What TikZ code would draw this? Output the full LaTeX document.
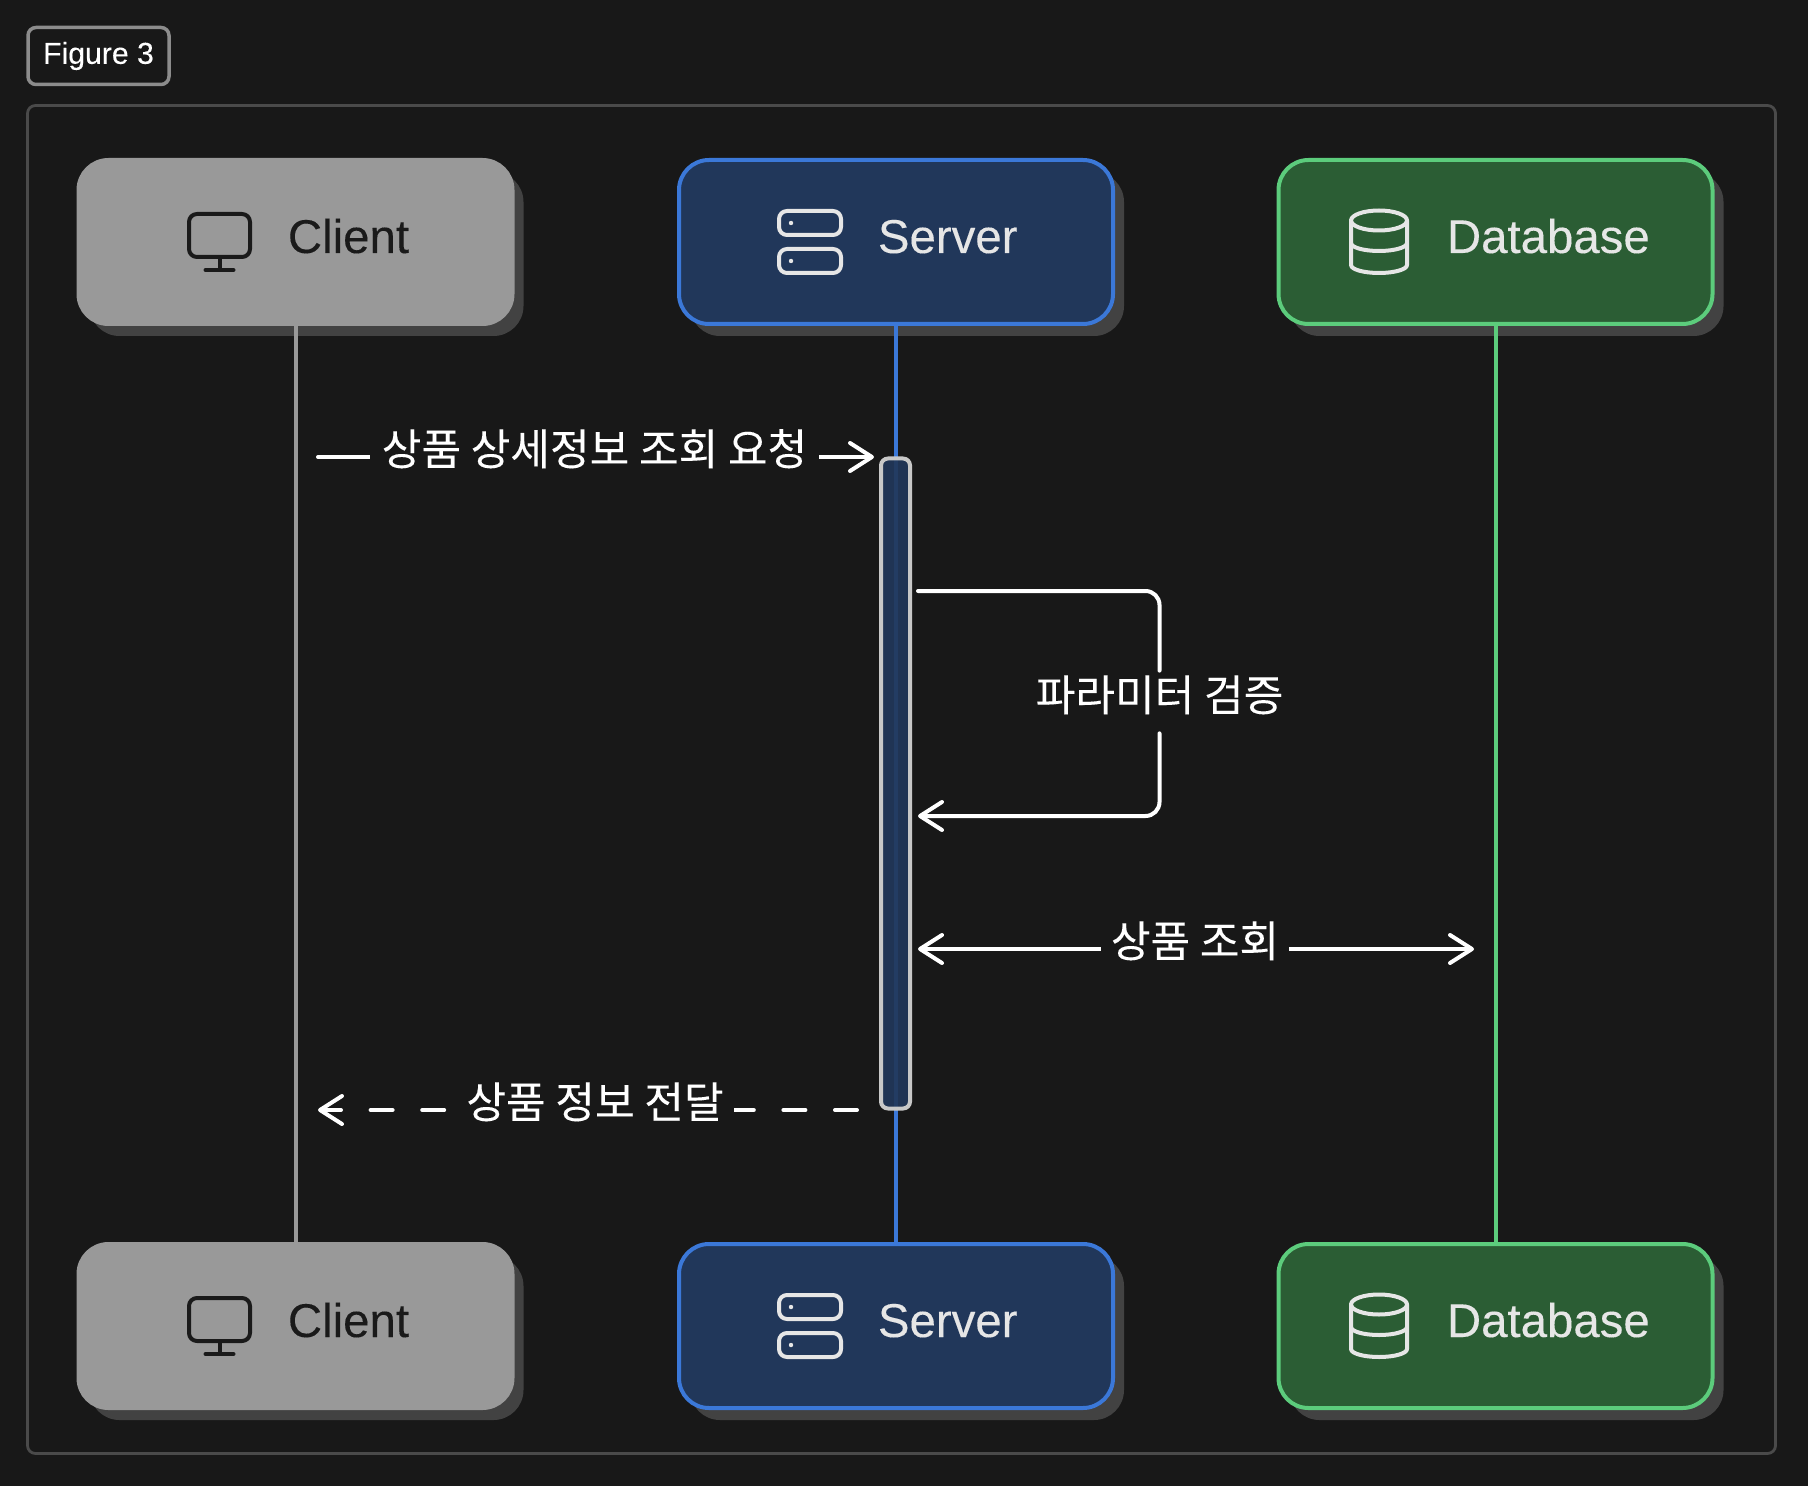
\documentclass[tikz,border=0pt]{standalone}
\usepackage{fontspec}
\setmainfont{Liberation Sans}[FakeBold=0.2]
\newfontfamily\krfont{Noto Sans CJK KR}[FakeBold=0.12]
\usetikzlibrary{arrows.meta,shadows}
\definecolor{bgdark}{HTML}{181818}
\definecolor{framegrey}{HTML}{4A4A4A}
\definecolor{tagedge}{HTML}{8C8C8C}
\definecolor{shadowgrey}{HTML}{424242}
\definecolor{clientfill}{HTML}{999999}
\definecolor{clientink}{HTML}{1A1A1A}
\definecolor{serverfill}{HTML}{21375A}
\definecolor{serveredge}{HTML}{3B78D8}
\definecolor{dbfill}{HTML}{2B5D34}
\definecolor{dbedge}{HTML}{5CCC7C}
\definecolor{iconlight}{HTML}{E6E6E6}
\definecolor{activeedge}{HTML}{C8C8C8}
\tikzset{
	actorbox/.style={rectangle,rounded corners=15pt,line width=2pt,minimum width=217pt,minimum height=82pt,
		drop shadow={shadow xshift=5.5pt,shadow yshift=-6pt,fill=shadowgrey,opacity=1}},
	actorname/.style={anchor=base west,inner sep=0pt,font=\fontsize{23.7}{28}\selectfont},
	lifeline/.style={line width=2pt},
	iconline/.style={line width=2pt,line cap=round,line join=round},
	msg/.style={white,line width=2pt,line cap=round},
	msgtip/.style={-{Straight Barb[length=11pt,width=14pt,round]}},
	msglabel/.style={anchor=base,fill=bgdark,text=white,inner ysep=0pt,inner xsep=1pt,text height=16pt,text depth=8pt,
		font=\krfont\fontsize{21.55}{26}\selectfont},
	monitoricon/.pic={
		\draw[iconline,clientink,rounded corners=4pt] (-106.5,-28) rectangle (-45.5,15);
		\draw[iconline,clientink] (-76,17) -- (-76,27);
		\draw[iconline,clientink] (-90,28) -- (-62,28);
	},
	servericon/.pic={
		\draw[iconline,iconlight,rounded corners=4pt] (-117,-31) rectangle (-55,-7);
		\draw[iconline,iconlight,rounded corners=4pt] (-117,7) rectangle (-55,31);
		\fill[iconlight] (-105,-19) circle (1.1pt);
		\fill[iconlight] (-105,19) circle (1.1pt);
	},
	databaseicon/.pic={
		\draw[iconline,iconlight] (-116.5,-21.5) ellipse [x radius=14pt,y radius=5pt];
		\draw[iconline,iconlight] (-144.5,-21.5) -- (-144.5,23) arc [start angle=180,end angle=360,x radius=14pt,y radius=4pt] -- (-88.5,-21.5);
		\draw[iconline,iconlight] (-144.5,1) arc [start angle=180,end angle=360,x radius=14pt,y radius=4pt];
	},
}
\begin{document}
\begin{tikzpicture}[x=0.5pt,y=-0.5pt]
	\useasboundingbox (0,0) rectangle (1808,1486);
	\fill[bgdark] (0,0) rectangle (1808,1486);
	% frame and tag
	\node[draw=framegrey,line width=1.4pt,rounded corners=4pt,minimum width=874pt,minimum height=674pt] (frame) at (901.5,779.5) {};
	\node[draw=tagedge,line width=1.75pt,rounded corners=4pt,minimum width=70.5pt,minimum height=28.5pt,text=white,inner sep=0pt,font=\fontsize{15.1}{18}\selectfont] (figtag) at (98.5,56) {Figure 3};
	% top and bottom row
	\foreach \row/\yy in {top/242,bot/1326} {
		\node[actorbox,fill=clientfill,draw=clientfill] (client\row) at (295.5,\yy) {};
		\node[actorbox,fill=serverfill,draw=serveredge] (server\row) at (896,\yy) {};
		\node[actorbox,fill=dbfill,draw=dbedge] (database\row) at (1495.5,\yy) {};
		\pic at (295.5,\yy) {monitoricon};
		\pic at (896,\yy) {servericon};
		\pic at (1495.5,\yy) {databaseicon};
		\node[actorname,text=clientink] (clientname\row) at (287.5,\yy+11) {Client};
		\node[actorname,text=iconlight] (servername\row) at (877.5,\yy+11) {Server};
		\node[actorname,text=iconlight] (databasename\row) at (1446.5,\yy+11) {Database};
	}
	% lifelines
	\draw[lifeline,clientfill] (clienttop.south) -- (clientbot.north);
	\draw[lifeline,serveredge] (servertop.south) -- (serverbot.north);
	\draw[lifeline,dbedge] (databasetop.south) -- (databasebot.north);
	\node[draw=activeedge,fill=serverfill,fill opacity=0.92,line width=2pt,rounded corners=3.5pt,minimum width=14.5pt,minimum height=325pt] (srvactive) at (895.5,783.5) {};
	% messages
	\coordinate (reqstart) at (318,457);
	\coordinate (reqend) at (874,457);
	\draw[msg,msgtip] (reqstart) -- (reqend);
	\node[msglabel,inner xsep=6pt] (reqlabel) at (594.5,465) {상품 상세정보 조회 요청};
	\coordinate (checkstart) at (918,591);
	\coordinate (checkend) at (918,816);
	\node[msglabel,fill=none,text height=20pt,text depth=11pt] (checklabel) at (1159.5,711) {파라미터 검증};
	\draw[msg,rounded corners=7pt] (checkstart) -| (checklabel.north);
	\draw[msg,msgtip,rounded corners=7pt] (checklabel.south) |- (checkend);
	\coordinate (lookupstart) at (918,949);
	\coordinate (lookupend) at (1474,949);
	\draw[msg,{Straight Barb[length=11pt,width=14pt,round]}-{Straight Barb[length=11pt,width=14pt,round]}] (lookupstart) -- (lookupend);
	\node[msglabel,inner xsep=5pt] (lookuplabel) at (1195,957) {상품 조회};
	\coordinate (replystart) at (857,1110);
	\coordinate (replyend) at (318,1110);
	\draw[msg,msgtip,dash pattern=on 11pt off 14.8pt] (replystart) -- (replyend);
	\node[msglabel,inner xsep=5pt] (replylabel) at (595,1118) {상품 정보 전달};
\end{tikzpicture}
\end{document}
